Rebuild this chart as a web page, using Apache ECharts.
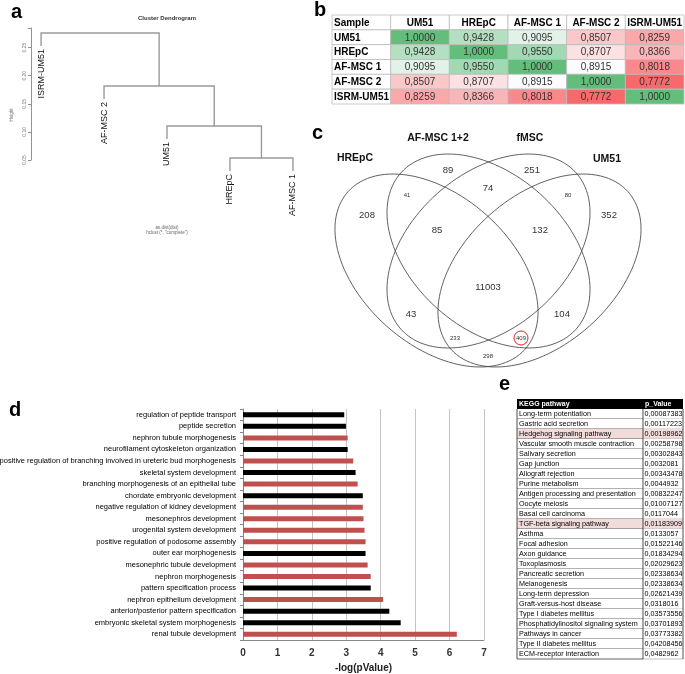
<!DOCTYPE html>
<html><head><meta charset="utf-8">
<script src="https://cdn.jsdelivr.net/npm/echarts@6/dist/echarts.min.js"></script>
<style>html,body{margin:0;padding:0;background:#fff}#c{width:685px;height:674px}</style>
</head><body><div id="c"></div>
<script>
// ---------- Panel a: cluster dendrogram ----------
const dendroLeaves = ['ISRM-UM51', 'AF-MSC 2', 'UM51', 'HREpC', 'AF-MSC 1'];
const dendroMerges = [[-4, -5], [-3, 1], [-2, 2], [-1, 3]];   // R hclust style
const dendroHeights = [0.0536, 0.1105, 0.1817, 0.276];
const dendroHang = 0.023;
const dendroTicks = [0.05, 0.10, 0.15, 0.20, 0.25];

// ---------- Panel b: correlation table ----------
const corrSamples = ['UM51', 'HREpC', 'AF-MSC 1', 'AF-MSC 2', 'ISRM-UM51'];
const corrUM51   = [1.0000, 0.9428, 0.9095, 0.8507, 0.8259];
const corrHREpC  = [0.9428, 1.0000, 0.9550, 0.8707, 0.8366];
const corrAFMSC1 = [0.9095, 0.9550, 1.0000, 0.8915, 0.8018];
const corrAFMSC2 = [0.8507, 0.8707, 0.8915, 1.0000, 0.7772];
const corrISRM   = [0.8259, 0.8366, 0.8018, 0.7772, 1.0000];

// ---------- Panel c: Venn ----------
const vennSets = ['HREpC', 'AF-MSC 1+2', 'fMSC', 'UM51'];
const vennRegions = ['A', 'B', 'C', 'D', 'AB', 'CD', 'BC', 'ABC', 'BCD', 'ABCD', 'AC', 'BD', 'ACD', 'ABD', 'AD'];
const vennCounts  = [208, 89, 251, 352, 41, 80, 74, 85, 132, 11003, 43, 104, 233, 409, 298];
const vennCircled = 'ABD';

// ---------- Panel d: GO terms ----------
const goTerms = [
  'regulation of peptide transport', 'peptide secretion', 'nephron tubule morphogenesis',
  'neurofilament cytoskeleton organization',
  'positive regulation of branching involved in ureteric bud morphogenesis',
  'skeletal system development', 'branching morphogenesis of an epithelial tube',
  'chordate embryonic development', 'negative regulation of kidney development',
  'mesonephros development', 'urogenital system development',
  'positive regulation of podosome assembly', 'outer ear morphogenesis',
  'mesonephric tubule development', 'nephron morphogenesis', 'pattern specification process',
  'nephron epithelium development', 'anterior/posterior pattern specification',
  'embryonic skeletal system morphogenesis', 'renal tubule development'];
const goValues = [2.94, 2.99, 3.04, 3.04, 3.20, 3.27, 3.33, 3.48, 3.48, 3.50,
                  3.53, 3.56, 3.56, 3.62, 3.71, 3.71, 4.07, 4.25, 4.58, 6.21];
const goKidney = [0, 0, 1, 0, 1, 0, 1, 0, 1, 1, 1, 1, 0, 1, 1, 0, 1, 0, 0, 1];
const goTicks = [0, 1, 2, 3, 4, 5, 6, 7];

// ---------- Panel e: KEGG table ----------
const keggPathways = [
  'Long-term potentiation', 'Gastric acid secretion', 'Hedgehog signaling pathway',
  'Vascular smooth muscle contraction', 'Salivary secretion', 'Gap junction',
  'Allograft rejection', 'Purine metabolism', 'Antigen processing and presentation',
  'Oocyte meiosis', 'Basal cell carcinoma', 'TGF-beta signaling pathway', 'Asthma',
  'Focal adhesion', 'Axon guidance', 'Toxoplasmosis', 'Pancreatic secretion', 'Melanogenesis',
  'Long-term depression', 'Graft-versus-host disease', 'Type I diabetes mellitus',
  'Phosphatidylinositol signaling system', 'Pathways in cancer', 'Type II diabetes mellitus',
  'ECM-receptor interaction'];
const keggPValues = [0.00087383, 0.00117223, 0.00198962, 0.00258798, 0.00302843, 0.0032081,
  0.00343478, 0.0044932, 0.00832247, 0.01007127, 0.0117044, 0.01183909, 0.0133057,
  0.01522146, 0.01834294, 0.02029623, 0.02338634, 0.02338634, 0.02621439, 0.0318016,
  0.03573556, 0.03701893, 0.03773382, 0.04208456, 0.0482962];
const keggHighlight = ['Hedgehog signaling pathway', 'TGF-beta signaling pathway'];

// ================= layout / styles =================
const FONT = 'Liberation Sans, Arial, sans-serif';
const corrMatrix = [corrUM51, corrHREpC, corrAFMSC1, corrAFMSC2, corrISRM];
const vennEllipses = [ // cx, cy, a, b, angle(deg) in venn grid units
  [106.5, 155.5, 118.5, 74.7, 41.6],
  [158.5, 136, 117.4, 77, 41.7],
  [158.5, 136, 117.4, 77, -41.7],
  [209.5, 155.5, 118.5, 74.7, -41.6]];
const vennLabelPos = {A:[37,100], B:[118,55], C:[202,55], D:[279,100], AB:[77,80], CD:[238,80],
  BC:[158,73], ABC:[107,115], BCD:[210,115], ABCD:[158,172], AC:[81,199], BD:[232,199],
  ACD:[125,223], ABD:[191,223], AD:[158,241]};
const vennSmall = ['AB', 'CD', 'ACD', 'ABD', 'AD'];
const vennSetPos = [[25,43], [108,23], [200,23], [277,44]];

function fmtComma(v, d) { return (d == null ? String(v) : v.toFixed(d)).replace('.', ','); }
function hex2rgb(h) { return [1,3,5].map(i => parseInt(h.substr(i,2),16)); }
function mix(c1, c2, t) { const a = hex2rgb(c1), b = hex2rgb(c2);
  return 'rgb(' + a.map((x,i)=>Math.round(x + (b[i]-x)*t)).join(',') + ')'; }
const allCorr = corrMatrix.flat().slice().sort((a,b)=>a-b);
const cMin = allCorr[0], cMax = allCorr[allCorr.length-1], cMid = allCorr[Math.floor(allCorr.length/2)];
function corrColor(v) {
  if (v <= cMid) return mix('#F8696B', '#FCFCFF', (v - cMin)/(cMid - cMin));
  return mix('#FCFCFF', '#63BE7B', (v - cMid)/(cMax - cMid));
}

// dendrogram geometry
function nodeX(ref) {
  if (ref < 0) return -ref;
  const m = dendroMerges[ref-1];
  return (nodeX(m[0]) + nodeX(m[1]))/2;
}
function nodeY(ref, parentH) { return ref < 0 ? parentH - dendroHang : dendroHeights[ref-1]; }
const leafParentH = [];
dendroMerges.forEach((m, i) => m.forEach(r => { if (r < 0) leafParentH[-r-1] = dendroHeights[i]; }));

const option = {
  backgroundColor: '#fff',
  animation: false,
  grid: [
    {left: 31, top: 28, width: 272, height: 132, outerBoundsMode: 'none', containLabel: false},
    {left: 332, top: 15, width: 352, height: 89, outerBoundsMode: 'none', containLabel: false},
    {left: 330, top: 115, width: 355, height: 290, outerBoundsMode: 'none', containLabel: false},
    {left: 243, top: 409, width: 241, height: 231, outerBoundsMode: 'none', containLabel: false},
    {left: 517, top: 399, width: 166, height: 260, outerBoundsMode: 'none', containLabel: false}
  ],
  xAxis: [
    {gridIndex: 0, type: 'value', min: 0.84, max: 5.16, show: false},
    {gridIndex: 1, type: 'category', data: ['Sample'].concat(corrSamples), show: false},
    {gridIndex: 2, type: 'value', min: 0, max: 355, show: false},
    {gridIndex: 3, type: 'value', min: 0, max: 7, interval: 1,
      name: '-log(pValue)', nameLocation: 'middle', nameGap: 23,
      nameTextStyle: {fontFamily: FONT, fontSize: 10, fontWeight: 'bold', color: '#222'},
      axisLine: {show: true, lineStyle: {color: '#868686', width: 1}},
      axisTick: {show: false},
      axisLabel: {fontFamily: FONT, fontSize: 10, fontWeight: 'bold', color: '#333', margin: 8,
        formatter: v => goTicks.includes(v) ? String(v) : ''},
      splitLine: {show: true, lineStyle: {color: '#c4c4c4', width: 1}}},
    {gridIndex: 4, type: 'value', min: 0, max: 1, show: false}
  ],
  yAxis: [
    {gridIndex: 0, type: 'value', min: 0.05, max: 0.285, interval: 0.05,
      axisLine: {show: true, lineStyle: {color: '#777', width: 0.8}},
      axisTick: {show: true, length: 3, lineStyle: {color: '#777', width: 0.8}},
      axisLabel: {rotate: 90, fontFamily: FONT, fontSize: 5, color: '#777', margin: 4,
        formatter: v => dendroTicks.some(t => Math.abs(t - v) < 1e-9) ? v.toFixed(2) : ''},
      splitLine: {show: false}},
    {gridIndex: 1, type: 'category', inverse: true, data: ['Sample'].concat(corrSamples), show: false},
    {gridIndex: 2, type: 'value', min: 0, max: 290, inverse: true, show: false},
    {gridIndex: 3, type: 'category', inverse: true, data: goTerms,
      axisLine: {show: true, lineStyle: {color: '#868686', width: 1}},
      axisTick: {show: true, length: 3, lineStyle: {color: '#868686'}},
      axisLabel: {fontFamily: FONT, fontSize: 7.5, color: '#000', margin: 7, interval: 0}},
    {gridIndex: 4, type: 'category', inverse: true, data: ['KEGG pathway'].concat(keggPathways), show: false}
  ],
  graphic: [
    {type: 'text', x: 11, y: 2, style: {text: 'a', font: 'bold 20px ' + FONT, fill: '#000'}},
    {type: 'text', x: 314, y: 0, style: {text: 'b', font: 'bold 20px ' + FONT, fill: '#000'}},
    {type: 'text', x: 312, y: 123, style: {text: 'c', font: 'bold 20px ' + FONT, fill: '#000'}},
    {type: 'text', x: 9, y: 400, style: {text: 'd', font: 'bold 20px ' + FONT, fill: '#000'}},
    {type: 'text', x: 499, y: 374, style: {text: 'e', font: 'bold 20px ' + FONT, fill: '#000'}},
    {type: 'text', x: 167, y: 18, style: {text: 'Cluster Dendrogram', font: 'bold 6px ' + FONT, fill: '#333', align: 'center', verticalAlign: 'middle'}},
    {type: 'text', x: 12, y: 115, rotation: Math.PI/2, style: {text: 'Height', font: '4.5px ' + FONT, fill: '#777', align: 'center', verticalAlign: 'middle'}},
    {type: 'text', x: 167, y: 228, style: {text: 'as.dist(dist)', font: '4.5px ' + FONT, fill: '#666', align: 'center', verticalAlign: 'middle'}},
    {type: 'text', x: 167, y: 233, style: {text: 'hclust (*, "complete")', font: '4.5px ' + FONT, fill: '#666', align: 'center', verticalAlign: 'middle'}}
  ],
  series: [
    // dendrogram branches
    {type: 'custom', xAxisIndex: 0, yAxisIndex: 0, clip: false,
      data: dendroHeights.map((h, i) => [i, h]),
      renderItem: (params, api) => {
        const i = params.dataIndex, m = dendroMerges[i], h = dendroHeights[i];
        const xl = nodeX(m[0]), xr = nodeX(m[1]);
        const pts = [[xl, nodeY(m[0], h)], [xl, h], [xr, h], [xr, nodeY(m[1], h)]].map(p => api.coord(p));
        return {type: 'polyline', shape: {points: pts}, style: {stroke: '#9a9a9a', lineWidth: 1.4, fill: null}};
      }},
    // dendrogram leaf labels
    {type: 'custom', xAxisIndex: 0, yAxisIndex: 0, clip: false,
      data: dendroLeaves.map((n, i) => [i + 1, leafParentH[i] - dendroHang]),
      renderItem: (params, api) => {
        const p = api.coord([api.value(0), api.value(1)]);
        return {type: 'text', x: p[0], y: p[1] + 3, rotation: Math.PI/2,
          style: {text: dendroLeaves[params.dataIndex], align: 'right', verticalAlign: 'middle',
            font: '9px ' + FONT, fill: '#111'}};
      }},
    // correlation table
    {type: 'custom', xAxisIndex: 1, yAxisIndex: 1, clip: false,
      data: (() => { const d = []; for (let r = 0; r < 6; r++) for (let c = 0; c < 6; c++) d.push([c, r]); return d; })(),
      renderItem: (params, api) => {
        const c = api.value(0), r = api.value(1);
        const p = api.coord([c, r]), s = api.size([1, 1]);
        const x = p[0] - s[0]/2, y = p[1] - s[1]/2;
        let fill = '#fff', text, bold = false, align = 'center', tx = p[0];
        if (r === 0 && c === 0) { text = 'Sample'; bold = true; align = 'left'; tx = x + 2; }
        else if (r === 0) { text = corrSamples[c-1]; bold = true; }
        else if (c === 0) { text = corrSamples[r-1]; bold = true; align = 'left'; tx = x + 2; }
        else { const v = corrMatrix[r-1][c-1]; text = fmtComma(v, 4); fill = corrColor(v); }
        return {type: 'group', children: [
          {type: 'rect', shape: {x: x, y: y, width: s[0], height: s[1]}, style: {fill: fill, stroke: '#bdbdbd', lineWidth: 0.8}},
          {type: 'text', x: tx, y: p[1] + 0.5, style: {text: text, align: align, verticalAlign: 'middle',
            font: (bold ? 'bold ' : '') + '10px ' + FONT, fill: bold ? '#000' : '#333'}}
        ]};
      }},
    // venn ellipses
    {type: 'custom', xAxisIndex: 2, yAxisIndex: 2, clip: false,
      data: vennEllipses.map((e, i) => [e[0], e[1]]),
      renderItem: (params, api) => {
        const e = vennEllipses[params.dataIndex];
        const th = e[4] * Math.PI / 180, ct = Math.cos(th), st = Math.sin(th);
        const pts = [];
        for (let k = 0; k < 120; k++) {
          const t = k / 120 * 2 * Math.PI;
          const px = e[2]*Math.cos(t), py = e[3]*Math.sin(t);
          pts.push(api.coord([e[0] + px*ct - py*st, e[1] + px*st + py*ct]));
        }
        return {type: 'polygon', shape: {points: pts}, style: {fill: null, stroke: '#3a3a3a', lineWidth: 0.8}};
      }},
    // venn counts
    {type: 'custom', xAxisIndex: 2, yAxisIndex: 2, clip: false,
      data: vennRegions.map(r => vennLabelPos[r]),
      renderItem: (params, api) => {
        const reg = vennRegions[params.dataIndex];
        const p = api.coord([api.value(0), api.value(1)]);
        const small = vennSmall.includes(reg);
        const ch = [{type: 'text', x: p[0], y: p[1], style: {text: String(vennCounts[params.dataIndex]),
          align: 'center', verticalAlign: 'middle', font: (small ? '6px ' : '9.5px ') + FONT, fill: '#333'}}];
        if (reg === vennCircled) ch.push({type: 'circle', shape: {cx: p[0], cy: p[1], r: 7},
          style: {fill: null, stroke: '#e8202a', lineWidth: 1}});
        return {type: 'group', children: ch};
      }},
    // venn set names
    {type: 'custom', xAxisIndex: 2, yAxisIndex: 2, clip: false,
      data: vennSetPos,
      renderItem: (params, api) => {
        const p = api.coord([api.value(0), api.value(1)]);
        return {type: 'text', x: p[0], y: p[1], style: {text: vennSets[params.dataIndex],
          align: 'center', verticalAlign: 'middle', font: 'bold 10.5px ' + FONT, fill: '#111'}};
      }},
    // GO bar chart
    {type: 'bar', xAxisIndex: 3, yAxisIndex: 3, barWidth: 5,
      data: goValues.map((v, i) => ({value: v, itemStyle: {color: goKidney[i] ? '#C0504D' : '#000000'}}))},
    // KEGG table
    {type: 'custom', xAxisIndex: 4, yAxisIndex: 4, clip: false,
      data: ['KEGG pathway'].concat(keggPathways).map((n, i) => [0, i]),
      renderItem: (params, api) => {
        const i = params.dataIndex;
        const p0 = api.coord([0, i]), p1 = api.coord([1, i]), pd = api.coord([0.759, i]);
        const h = api.size([0, 1])[1];
        const y0 = p0[1] - h/2, y1 = p0[1] + h/2, x0 = p0[0], x1 = p1[0], xd = pd[0];
        const ch = [];
        if (i === 0) {
          ch.push({type: 'rect', shape: {x: x0, y: y0, width: x1 - x0, height: h}, style: {fill: '#000'}});
          ch.push({type: 'text', x: x0 + 2, y: p0[1], style: {text: 'KEGG pathway', align: 'left', verticalAlign: 'middle', font: 'bold 7px ' + FONT, fill: '#fff'}});
          ch.push({type: 'text', x: xd + 2, y: p0[1], style: {text: 'p_Value', align: 'left', verticalAlign: 'middle', font: 'bold 7px ' + FONT, fill: '#fff'}});
        } else {
          const name = keggPathways[i-1];
          const hl = keggHighlight.includes(name);
          ch.push({type: 'rect', shape: {x: x0, y: y0, width: x1 - x0, height: h}, style: {fill: hl ? '#F2DCDB' : '#fff'}});
          ch.push({type: 'line', shape: {x1: x0, y1: y1, x2: xd, y2: y1}, style: {stroke: '#222', lineWidth: 0.7}});
          ch.push({type: 'line', shape: {x1: xd, y1: y1, x2: x1, y2: y1}, style: {stroke: '#999', lineWidth: 0.6}});
          ch.push({type: 'line', shape: {x1: x0, y1: y0, x2: x0, y2: y1}, style: {stroke: '#222', lineWidth: 0.8}});
          ch.push({type: 'line', shape: {x1: xd, y1: y0, x2: xd, y2: y1}, style: {stroke: '#222', lineWidth: 0.8}});
          ch.push({type: 'line', shape: {x1: x1, y1: y0, x2: x1, y2: y1}, style: {stroke: '#222', lineWidth: 0.8}});
          ch.push({type: 'text', x: x0 + 2, y: p0[1], style: {text: name, align: 'left', verticalAlign: 'middle', font: '7.2px ' + FONT, fill: '#000'}});
          ch.push({type: 'text', x: xd + 1.5, y: p0[1], style: {text: fmtComma(keggPValues[i-1]), align: 'left', verticalAlign: 'middle', font: '7.2px ' + FONT, fill: '#000'}});
        }
        return {type: 'group', children: ch};
      }}
  ]
};
const chart = echarts.init(document.getElementById('c'), null, {renderer: 'canvas', width: 685, height: 674});
chart.setOption(option);
</script>
</body></html>
